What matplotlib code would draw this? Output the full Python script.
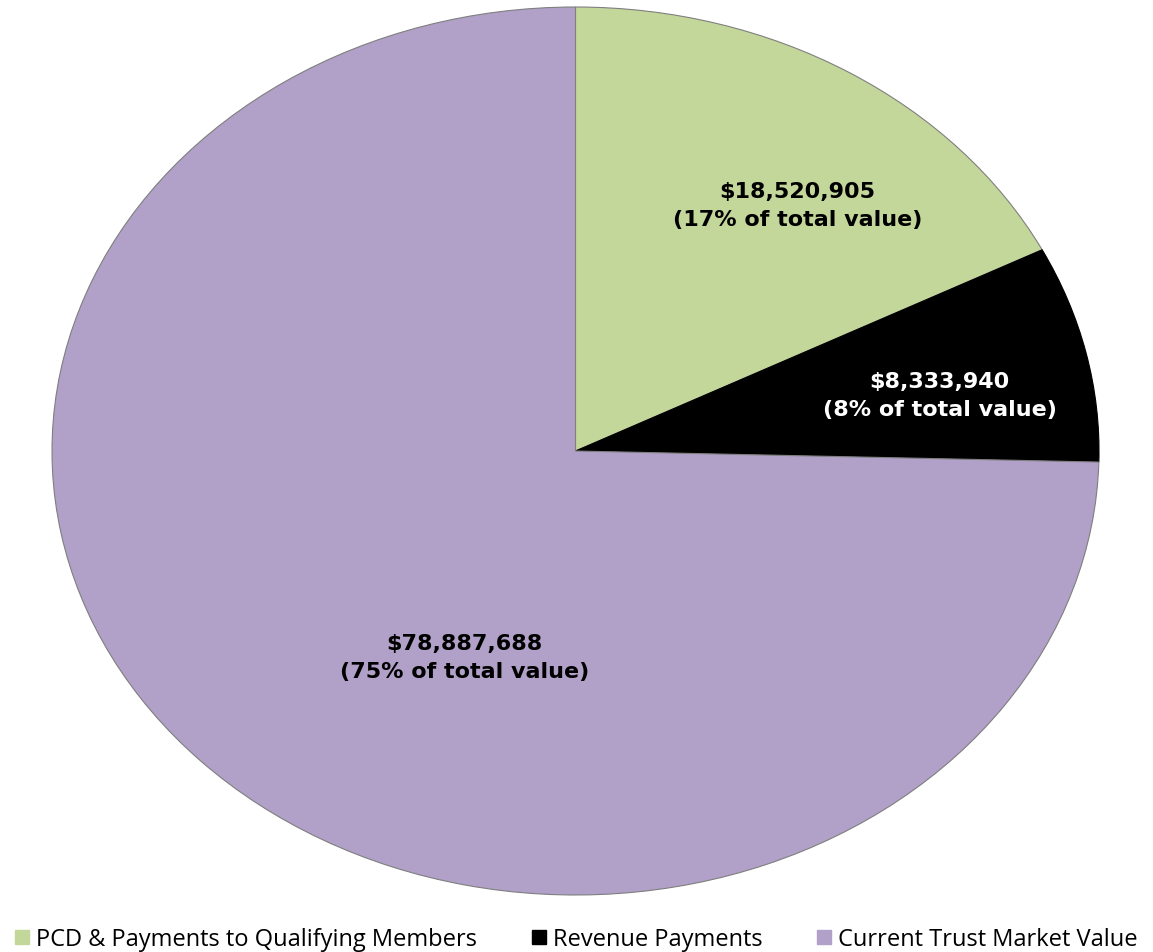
import matplotlib.pyplot as plt
from matplotlib.lines import Line2D

# values from the chart
labels = ['PCD & Payments to Qualifying Members', 'Revenue Payments', 'Current Trust Market Value']
values = [18520905, 8333940, 78887688]
pct_text = ['17%', '8%', '75%']
colors = ['#C4D79B', '#000000', '#B1A0C7']
text_colors = ['#000000', '#FFFFFF', '#000000']

fig = plt.figure(figsize=(11.53, 9.52), dpi=100)
ax = fig.add_axes([52/1153, 57/952, 1047/1153, 888/952])

wedges, _ = ax.pie(values, colors=colors, startangle=90, counterclock=False,
                   wedgeprops=dict(edgecolor='#7f7f7f', linewidth=0.8))
wedges[1].set_edgecolor('#000000')
ax.set_aspect('auto')
ax.set_xlim(-1.0, 1.0)
ax.set_ylim(-1.0, 1.0)

# label spots (data coords of the ellipse)
label_pos = [(0.424, 0.552), (0.696, 0.124), (-0.212, -0.466)]
for v, p, pos, tc in zip(values, pct_text, label_pos, text_colors):
    ax.text(pos[0], pos[1], '${:,}\n({} of total value)'.format(v, p),
            ha='center', va='center', fontsize=16, fontweight='bold',
            color=tc, family='DejaVu Sans', linespacing=1.5)

handles = [Line2D([0], [0], marker='s', linestyle='none', markersize=10,
                  markerfacecolor=c, markeredgecolor=c) for c in colors]
fig.legend(handles, labels, loc='lower center', bbox_to_anchor=(0.5, -0.022), ncol=3,
           frameon=False, prop={'family': 'Open Sans', 'size': 17},
           handlelength=0.6, handletextpad=0.3, columnspacing=2.3)

fig.savefig('out.png', dpi=100)
